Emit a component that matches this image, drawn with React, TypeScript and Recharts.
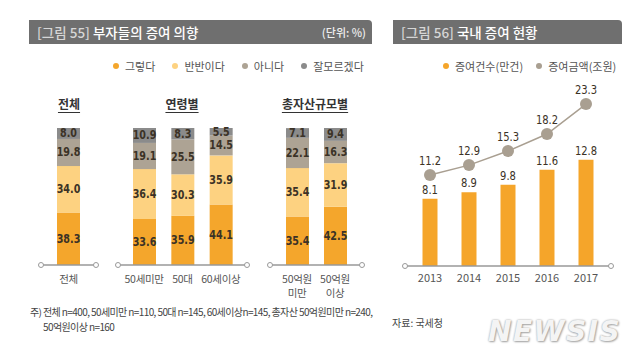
import { BarChart, ComposedChart, Bar, Line, XAxis, YAxis, LabelList } from 'recharts';

const KR = '"Noto Sans CJK KR", "Noto Sans", sans-serif';
const NUM = '"DejaVu Sans", sans-serif';

// 그림 55 — 부자들의 증여 의향 (%)
const intentCategories = ['전체', '50세미만', '50대', '60세이상', '50억원\n미만', '50억원\n이상'];
const yesValues = [38.3, 33.6, 35.9, 44.1, 35.4, 42.5];
const halfValues = [34.0, 36.4, 30.3, 35.9, 35.4, 31.9];
const noValues = [19.8, 19.1, 25.5, 14.5, 22.1, 16.3];
const unsureValues = [8.0, 10.9, 8.3, 5.5, 7.1, 9.4];
const intentSeries = [
  { key: 'yes', name: '그렇다', color: '#F4A62C' },
  { key: 'half', name: '반반이다', color: '#FDD281' },
  { key: 'no', name: '아니다', color: '#ADA394' },
  { key: 'unsure', name: '잘모르겠다', color: '#8B8B8B' },
];
const groupTitles = ['전체', '연령별', '총자산규모별'];

// 그림 56 — 국내 증여 현황
const years = ['2013', '2014', '2015', '2016', '2017'];
const giftCounts = [8.1, 8.9, 9.8, 11.6, 12.8];
const giftAmounts = [11.2, 12.9, 15.3, 18.2, 23.3];

const intentRows = intentCategories.map((name, i) => ({
  name,
  yes: yesValues[i],
  half: halfValues[i],
  no: noValues[i],
  unsure: unsureValues[i],
}));
const groups = [intentRows.slice(0, 1), intentRows.slice(1, 4), intentRows.slice(4, 6)];
const groupBoxes = [
  { left: 41, width: 55, pad: 0 },
  { left: 118, width: 129, pad: 7 },
  { left: 270, width: 92, pad: 8 },
];
const titleCenters = [69, 182, 315];

const giftRows = years.map((year, i) => ({ year, count: giftCounts[i], amount: giftAmounts[i] }));

const fmt = (v: any) => (typeof v === 'number' ? v.toFixed(1) : String(v));

// narrow number text (no condensed font installed, so squeeze horizontally)
function NarrowText({ cx, cy, value, size, weight, baseline }: any) {
  return (
    <text
      transform={`translate(${cx},${cy}) scale(0.8,1)`}
      textAnchor="middle"
      dominantBaseline={baseline}
      fill="#3b3226"
      fontSize={size}
      fontWeight={weight}
      fontFamily={NUM}
    >
      {fmt(value)}
    </text>
  );
}

const StackLabel = (p: any) => (
  <NarrowText cx={p.x + p.width / 2} cy={p.y + p.height / 2} value={p.value} size={12} weight={700} baseline="central" />
);
const BarTopLabel = (p: any) => (
  <NarrowText cx={p.x + p.width / 2} cy={p.y - 5} value={p.value} size={12.5} weight={400} baseline="auto" />
);
const DotLabel = (p: any) => <NarrowText cx={p.x} cy={p.y - 10} value={p.value} size={12.5} weight={400} baseline="auto" />;

function MultiTick({ x, y, payload }: any) {
  const lines = String(payload.value).split('\n');
  return (
    <text x={x} y={y} textAnchor="middle" fill="#555" fontSize={10.5} fontFamily={KR} letterSpacing={-0.3}>
      {lines.map((l, i) => (
        <tspan key={i} x={x} dy={i === 0 ? '0.75em' : 14}>
          {l}
        </tspan>
      ))}
    </text>
  );
}

function EndDot({ x, y }: { x: number; y: number }) {
  return (
    <div
      style={{
        position: 'absolute',
        left: x - 3,
        top: y - 3,
        width: 4,
        height: 4,
        borderRadius: '50%',
        border: '1px solid #999',
        background: '#fff',
      }}
    />
  );
}

function TitleBar({ left, width, num, text, unit }: any) {
  return (
    <div
      style={{
        position: 'absolute',
        left,
        top: 20,
        width,
        height: 24,
        background: '#6f6f6f',
        borderTopRightRadius: 4,
        color: '#fff',
        fontSize: 13.5,
        lineHeight: '24px',
        fontWeight: 500,
        boxSizing: 'border-box',
        paddingLeft: 8,
      }}
    >
      <span style={{ color: '#d6d6d6' }}>{num}</span> {text}
      {unit && <span style={{ position: 'absolute', right: 6, fontSize: 11, color: '#eee' }}>{unit}</span>}
    </div>
  );
}

function LegendRow({ left, items, gap }: any) {
  return (
    <div style={{ position: 'absolute', left, top: 58, display: 'flex', gap, fontSize: 11, color: '#555' }}>
      {items.map((it: any) => (
        <div key={it.name} style={{ display: 'flex', alignItems: 'center' }}>
          <span style={{ width: 6, height: 6, borderRadius: '50%', background: it.color, marginRight: 6 }} />
          {it.name}
        </div>
      ))}
    </div>
  );
}

export default function App() {
  return (
    <div
      style={{
        position: 'absolute',
        left: 0,
        top: 0,
        width: 640,
        height: 363,
        background: '#fff',
        fontFamily: KR,
        overflow: 'hidden',
      }}
    >
      <TitleBar left={29} width={343} num="[그림 55]" text="부자들의 증여 의향" unit="(단위: %)" />
      <TitleBar left={393} width={229} num="[그림 56]" text="국내 증여 현황" />

      <LegendRow left={113} gap={17} items={intentSeries} />
      <LegendRow
        left={443}
        gap={13}
        items={[
          { name: '증여건수(만건)', color: '#F5A52A' },
          { name: '증여금액(조원)', color: '#A99F91' },
        ]}
      />

      {groupTitles.map((t, i) => (
        <div
          key={t}
          style={{
            position: 'absolute',
            left: titleCenters[i] - 60,
            width: 120,
            top: 95,
            textAlign: 'center',
            fontSize: 12,
            fontWeight: 700,
            color: '#333',
            textDecoration: 'underline',
            textUnderlineOffset: 3,
          }}
        >
          {t}
        </div>
      ))}

      {groups.map((rows, gi) => {
        const box = groupBoxes[gi];
        return (
          <div key={gi} style={{ position: 'absolute', left: box.left, top: 118 }}>
            <BarChart width={box.width} height={187} data={rows} margin={{ top: 10, right: 0, left: 0, bottom: 0 }}>
              <YAxis hide domain={[0, 100]} />
              <XAxis
                dataKey="name"
                height={40}
                tickSize={0}
                tickMargin={10}
                tickLine={false}
                axisLine={{ stroke: '#999', strokeWidth: 1.5 }}
                tick={<MultiTick />}
                interval={0}
                padding={{ left: box.pad, right: box.pad }}
              />
              {intentSeries.map((s) => (
                <Bar key={s.key} dataKey={s.key} stackId="a" fill={s.color} barSize={23} isAnimationActive={false}>
                  <LabelList dataKey={s.key} content={StackLabel} />
                </Bar>
              ))}
            </BarChart>
            <EndDot x={0} y={147} />
            <EndDot x={box.width} y={147} />
          </div>
        );
      })}

      <div style={{ position: 'absolute', left: 30, top: 304, fontSize: 10, color: '#444', lineHeight: '15px', letterSpacing: -0.6, whiteSpace: 'nowrap' }}>
        주) 전체 n=400, 50세미만 n=110, 50대 n=145, 60세이상n=145, 총자산 50억원미만 n=240,
        <br />
        <span style={{ paddingLeft: 13 }}>50억원이상 n=160</span>
      </div>

      <div style={{ position: 'absolute', left: 405, top: 70 }}>
        <ComposedChart width={206} height={226} data={giftRows} margin={{ top: 30, right: 0, left: 0, bottom: 0 }}>
          <YAxis yAxisId="count" hide domain={[0, 20]} />
          <YAxis yAxisId="amount" hide domain={[-4.3, 24]} />
          <XAxis
            dataKey="year"
            height={30}
            tickSize={0}
            tickMargin={8}
            tickLine={false}
            axisLine={{ stroke: '#999', strokeWidth: 1.5 }}
            tick={{ fill: '#555', fontSize: 11, fontFamily: KR }}
            interval={0}
            padding={{ left: 5.5, right: 5.5 }}
          />
          <Bar yAxisId="count" dataKey="count" fill="#F5A52A" barSize={15} isAnimationActive={false}>
            <LabelList dataKey="count" content={BarTopLabel} />
          </Bar>
          <Line
            yAxisId="amount"
            type="linear"
            dataKey="amount"
            stroke="#A99F91"
            strokeWidth={1.5}
            dot={{ r: 6, fill: '#A99F91', stroke: 'none' }}
            activeDot={false}
            isAnimationActive={false}
          >
            <LabelList dataKey="amount" content={DotLabel} />
          </Line>
        </ComposedChart>
        <EndDot x={0} y={196} />
        <EndDot x={206} y={196} />
      </div>

      <div style={{ position: 'absolute', left: 392, top: 315, fontSize: 10, color: '#444' }}>자료: 국세청</div>

      <div
        style={{
          position: 'absolute',
          left: 488,
          top: 315,
          fontFamily: '"DejaVu Sans", sans-serif',
          fontSize: 28,
          fontWeight: 700,
          fontStyle: 'italic',
          letterSpacing: 1.5,
          color: '#f4f4f4',
          textShadow: '0 0 2px #9a9a9a, 1px 1px 2px #aaa',
        }}
      >
        NEWSIS
      </div>
    </div>
  );
}
